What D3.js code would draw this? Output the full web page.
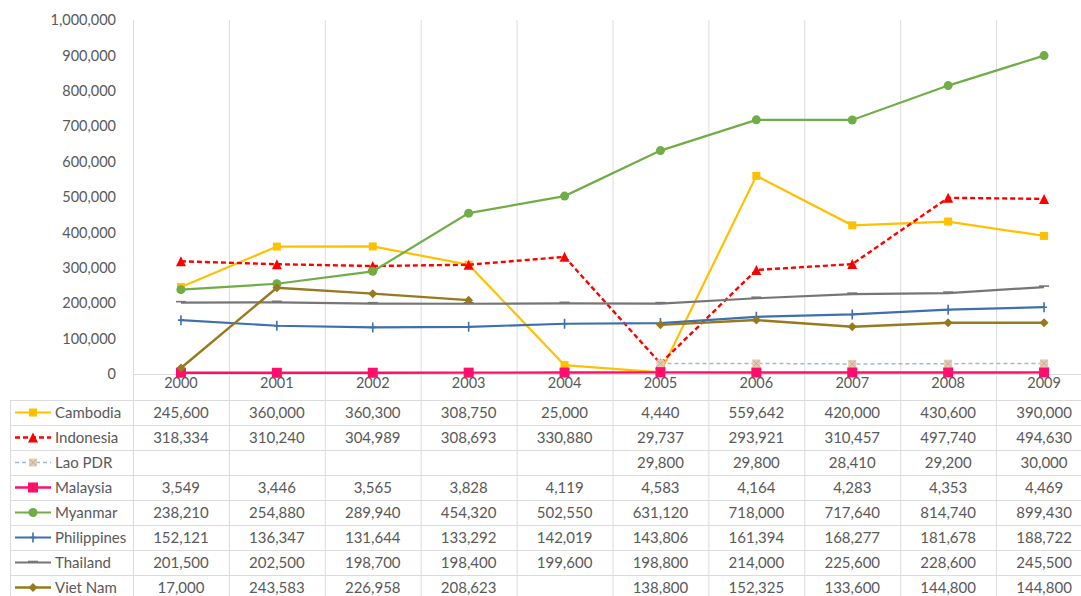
<html>
<head>
<meta charset="utf-8">
<script src="https://d3js.org/d3.v7.min.js"></script>
<style>
body { margin: 0; background: #fff; }
svg { display: block; }
text { font-family: Lato, "Open Sans", sans-serif; fill: #595959; }
.axis text { font-size: 14.5px; }
.axis path, .axis line { display: none; }
.cell { font-size: 15px; }
</style>
</head>
<body>
<svg width="1081" height="596"></svg>
<script>

var years = [2000, 2001, 2002, 2003, 2004, 2005, 2006, 2007, 2008, 2009];
var yTicks = [0, 100000, 200000, 300000, 400000, 500000, 600000, 700000, 800000, 900000, 1000000];

var cambodia    = [245600, 360000, 360300, 308750, 25000, 4440, 559642, 420000, 430600, 390000];
var indonesia   = [318334, 310240, 304989, 308693, 330880, 29737, 293921, 310457, 497740, 494630];
var laoPdr      = [null, null, null, null, null, 29800, 29800, 28410, 29200, 30000];
var malaysia    = [3549, 3446, 3565, 3828, 4119, 4583, 4164, 4283, 4353, 4469];
var myanmar     = [238210, 254880, 289940, 454320, 502550, 631120, 718000, 717640, 814740, 899430];
var philippines = [152121, 136347, 131644, 133292, 142019, 143806, 161394, 168277, 181678, 188722];
var thailand    = [201500, 202500, 198700, 198400, 199600, 198800, 214000, 225600, 228600, 245500];
var vietNam     = [17000, 243583, 226958, 208623, null, 138800, 152325, 133600, 144800, 144800];

var series = [
  {name: "Cambodia",    values: cambodia,    color: "#ffc000", width: 2.2, dash: null,  marker: "square",  size: 8},
  {name: "Indonesia",   values: indonesia,   color: "#ff0000", width: 2.4, dash: "5,3", marker: "triangle", size: 10},
  {name: "Lao PDR",     values: laoPdr,      color: "#a3b8d6", width: 1.5, dash: "4,3", marker: "xsquare", size: 8},
  {name: "Malaysia",    values: malaysia,    color: "#ff0f6b", width: 2.4, dash: null,  marker: "square",  size: 10},
  {name: "Myanmar",     values: myanmar,     color: "#70ad47", width: 2.2, dash: null,  marker: "circle",  size: 9},
  {name: "Philippines", values: philippines, color: "#3f6fae", width: 2.2, dash: null,  marker: "plus",    size: 10},
  {name: "Thailand",    values: thailand,    color: "#767676", width: 2.2, dash: null,  marker: "dash",    size: 10},
  {name: "Viet Nam",    values: vietNam,     color: "#977a1e", width: 2.4, dash: null,  marker: "diamond", size: 9}
];

var svg = d3.select("svg");
var plotLeft = 133, bandW = 95.9, plotTop = 20, zeroY = 374;
var tableTop = 400, rowH = 25, tableLeft = 10;

var x = d3.scaleBand()
    .domain(years)
    .range([plotLeft, plotLeft + bandW * years.length]);

var y = d3.scaleLinear()
    .domain([0, 1000000])
    .range([zeroY, plotTop]);

var rows = d3.scaleBand()
    .domain(series.map(d => d.name))
    .range([tableTop, tableTop + rowH * series.length]);

// grid lines
var grid = svg.append("g").attr("stroke", "#dcdcdc").attr("stroke-width", 1);
years.forEach(function(yr) {
  grid.append("line")
    .attr("x1", x(yr) + 0.5).attr("x2", x(yr) + 0.5)
    .attr("y1", plotTop).attr("y2", 600);
});
grid.append("line")
  .attr("x1", plotLeft).attr("x2", 1081)
  .attr("y1", zeroY + 0.5).attr("y2", zeroY + 0.5);
series.forEach(function(s) {
  grid.append("line")
    .attr("x1", tableLeft).attr("x2", 1081)
    .attr("y1", rows(s.name) + 0.5).attr("y2", rows(s.name) + 0.5);
});
grid.append("line")
  .attr("x1", tableLeft + 0.5).attr("x2", tableLeft + 0.5)
  .attr("y1", tableTop).attr("y2", 600);

// axes
svg.append("g")
  .attr("class", "axis")
  .attr("transform", "translate(" + plotLeft + ",0)")
  .call(d3.axisLeft(y).tickValues(yTicks).tickFormat(d3.format(",")).tickSize(0).tickPadding(17));

svg.append("g")
  .attr("class", "axis")
  .attr("transform", "translate(0," + zeroY + ")")
  .call(d3.axisBottom(x).tickSize(0).tickPadding(4));

// markers
function drawMarker(g, m, size, color) {
  var h = size / 2;
  if (m === "square") {
    g.append("rect").attr("x", -h).attr("y", -h).attr("width", size).attr("height", size).attr("fill", color);
  } else if (m === "triangle") {
    g.append("path").attr("d", "M0," + (-h) + "L" + h + "," + h + "L" + (-h) + "," + h + "Z").attr("fill", color);
  } else if (m === "xsquare") {
    g.append("rect").attr("x", -h).attr("y", -h).attr("width", size).attr("height", size).attr("fill", "#e3cbb5");
    g.append("path").attr("d", "M" + (-h + 1) + "," + (-h + 1) + "L" + (h - 1) + "," + (h - 1) + "M" + (h - 1) + "," + (-h + 1) + "L" + (-h + 1) + "," + (h - 1))
      .attr("stroke", "#c9a98f").attr("stroke-width", 1);
  } else if (m === "circle") {
    g.append("circle").attr("r", h).attr("fill", color);
  } else if (m === "diamond") {
    g.append("path").attr("d", "M0," + (-h) + "L" + h + ",0L0," + h + "L" + (-h) + ",0Z").attr("fill", color);
  } else if (m === "plus") {
    g.append("path").attr("d", "M0," + (-h) + "V" + h + "M-3,0H3").attr("stroke", color).attr("stroke-width", 1.6);
  } else if (m === "dash") {
    g.append("path").attr("d", "M" + (-h) + ",-1H" + h).attr("stroke", color).attr("stroke-width", 1.6);
  }
}

var line = d3.line()
    .defined(d => d.v !== null)
    .x(d => x(d.year) + x.bandwidth() / 2)
    .y(d => y(d.v));

series.forEach(function(s) {
  var pts = years.map((yr, i) => ({year: yr, v: s.values[i]}));
  var g = svg.append("g");
  g.append("path")
    .datum(pts)
    .attr("d", line)
    .attr("fill", "none")
    .attr("stroke", s.color)
    .attr("stroke-width", s.width)
    .attr("stroke-dasharray", s.dash);
  pts.filter(d => d.v !== null).forEach(function(d) {
    var mg = g.append("g").attr("transform", "translate(" + (x(d.year) + x.bandwidth() / 2) + "," + y(d.v) + ")");
    drawMarker(mg, s.marker, s.size, s.color);
  });
});

// data table with legend keys
var fmt = d3.format(",");
series.forEach(function(s) {
  var cy = rows(s.name) + rows.bandwidth() / 2;
  var key = svg.append("g");
  key.append("line")
    .attr("x1", 15).attr("x2", 51).attr("y1", cy).attr("y2", cy)
    .attr("stroke", s.color).attr("stroke-width", s.width)
    .attr("stroke-dasharray", s.dash);
  drawMarker(key.append("g").attr("transform", "translate(33," + cy + ")"), s.marker, s.size, s.color);
  svg.append("text")
    .attr("class", "cell")
    .attr("x", 55).attr("y", cy).attr("dy", "0.35em")
    .text(s.name);
  years.forEach(function(yr, i) {
    if (s.values[i] === null) return;
    svg.append("text")
      .attr("class", "cell")
      .attr("x", x(yr) + x.bandwidth() / 2).attr("y", cy).attr("dy", "0.35em")
      .attr("text-anchor", "middle")
      .text(fmt(s.values[i]));
  });
});

</script>
</body>
</html>
